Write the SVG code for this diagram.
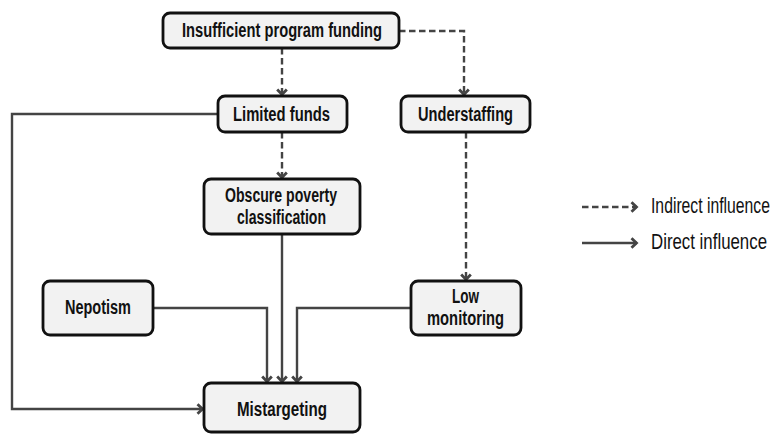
<svg xmlns="http://www.w3.org/2000/svg" width="784" height="434" viewBox="0 0 784 434">
<defs>
<marker id="ah" viewBox="0 0 12 12" refX="10.5" refY="6" markerWidth="12" markerHeight="12" markerUnits="userSpaceOnUse" orient="auto">
<path d="M5,1.2 L10,6 L5,10.8" fill="none" stroke="#444" stroke-width="2.8" stroke-linejoin="miter"/>
</marker>
</defs>
<style>
.box{fill:#f2f2f2;stroke:#111;stroke-width:2.8}
.lbl{font-family:"Liberation Sans","Arial",sans-serif;font-weight:bold;font-size:19.5px;fill:#111;text-anchor:middle}
.leg{font-family:"Liberation Sans","Arial",sans-serif;font-size:15px;fill:#111}
.c{fill:none;stroke:#444;stroke-width:2.4;marker-end:url(#ah)}
.d{stroke-dasharray:6.5,3.5}
</style>
<rect width="784" height="434" fill="#fff"/>
<g id="connectors">
<path class="c d" d="M282,48 V95"/>
<path class="c d" d="M399,31 H464 V95"/>
<path class="c d" d="M282,132 V178"/>
<path class="c d" d="M466,132 V280"/>
<path class="c" d="M218,114 H12 V409 H203"/>
<path class="c" d="M153,308 H267 V382"/>
<path class="c" d="M282,234 V382"/>
<path class="c" d="M411,308 H297 V382"/>
</g>
<g id="n-funding"><rect class="box" x="163" y="13" width="236" height="35" rx="7"/><text class="lbl" x="282" y="37" textLength="200" lengthAdjust="spacingAndGlyphs">Insufficient program funding</text></g>
<g id="n-limited"><rect class="box" x="218" y="96" width="129" height="36" rx="7"/><text class="lbl" x="281.5" y="121" textLength="97" lengthAdjust="spacingAndGlyphs">Limited funds</text></g>
<g id="n-under"><rect class="box" x="401" y="96" width="129" height="36" rx="7"/><text class="lbl" x="465.5" y="121" textLength="95" lengthAdjust="spacingAndGlyphs">Understaffing</text></g>
<g id="n-obscure"><rect class="box" x="204" y="179" width="156" height="55" rx="7"/><text class="lbl" x="281" y="202" textLength="112" lengthAdjust="spacingAndGlyphs">Obscure poverty</text><text class="lbl" x="281.5" y="224" textLength="89" lengthAdjust="spacingAndGlyphs">classification</text></g>
<g id="n-nepotism"><rect class="box" x="43" y="281" width="110" height="54" rx="7"/><text class="lbl" x="98" y="314" textLength="66" lengthAdjust="spacingAndGlyphs">Nepotism</text></g>
<g id="n-low"><rect class="box" x="411" y="281" width="110" height="54" rx="7"/><text class="lbl" x="465.5" y="303" textLength="27" lengthAdjust="spacingAndGlyphs">Low</text><text class="lbl" x="465.5" y="325" textLength="77" lengthAdjust="spacingAndGlyphs">monitoring</text></g>
<g id="n-mis"><rect class="box" x="204" y="383" width="156" height="49" rx="7"/><text class="lbl" x="282" y="416" textLength="90" lengthAdjust="spacingAndGlyphs">Mistargeting</text></g>
<g id="legend">
<path class="c d" d="M582,207 H637"/>
<path class="c" d="M582,243 H637"/>
<text class="leg" transform="matrix(1,0,0,1.45,651,213)" x="0" y="0" textLength="119" lengthAdjust="spacingAndGlyphs">Indirect influence</text>
<text class="leg" transform="matrix(1,0,0,1.45,651,249)" x="0" y="0" textLength="116" lengthAdjust="spacingAndGlyphs">Direct influence</text>
</g>
</svg>
